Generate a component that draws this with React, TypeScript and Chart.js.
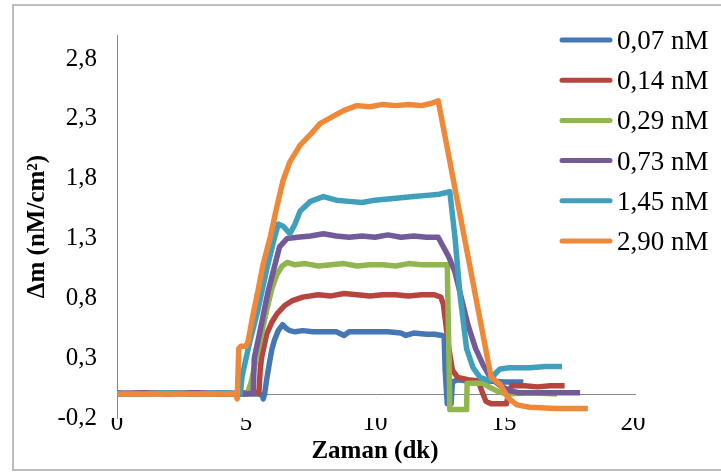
import React, { useEffect, useRef } from 'react';
import { Chart, registerables } from 'chart.js';

Chart.register(...registerables);

const seriesLabels = ['0,07 nM', '0,14 nM', '0,29 nM', '0,73 nM', '1,45 nM', '2,90 nM'];
const seriesColors = ['#4677B5', '#B5463F', '#92B64F', '#735A99', '#40A0BC', '#EE893A'];
const yTicks = [-0.2, 0.3, 0.8, 1.3, 1.8, 2.3, 2.8];
const xTicks = [0, 5, 10, 15, 20];

const t007 = [0, 1, 2, 3, 4, 5, 5.5, 5.62, 5.67, 5.72, 5.8, 5.9, 6.0, 6.1, 6.25, 6.42, 6.55, 6.7, 6.9, 7.2, 7.6, 8.0, 8.5, 8.8, 9.0, 9.5, 10.0, 10.5, 11.0, 11.2, 11.5, 12.0, 12.3, 12.6, 12.68, 12.72, 12.8, 12.95, 13.0, 13.2, 13.6, 14.0, 14.5, 15.0, 15.5, 15.75];
const v007 = [0.01, 0.0, 0.01, 0.0, 0.01, 0.0, 0.0, -0.01, -0.04, 0.0, 0.12, 0.25, 0.37, 0.45, 0.53, 0.58, 0.55, 0.53, 0.52, 0.53, 0.52, 0.52, 0.52, 0.49, 0.52, 0.52, 0.52, 0.52, 0.51, 0.49, 0.51, 0.5, 0.5, 0.49, 0.48, 0.2, -0.08, -0.08, 0.1, 0.12, 0.11, 0.1, 0.11, 0.1, 0.1, 0.1];

const t014 = [0, 1, 2, 3, 4, 5, 5.5, 5.55, 5.6, 5.8, 6.0, 6.2, 6.5, 6.8, 7.2, 7.8, 8.3, 8.8, 9.3, 9.8, 10.3, 10.8, 11.3, 11.8, 12.3, 12.55, 12.65, 12.75, 12.85, 13.0, 13.2, 13.6, 14.0, 14.15, 14.3, 14.5, 15.1, 15.2, 15.3, 15.8, 16.3, 16.8, 17.35];
const v014 = [0, 0.01, 0, 0.01, 0, 0.01, 0.01, 0.2, 0.3, 0.5, 0.6, 0.67, 0.74, 0.78, 0.81, 0.83, 0.82, 0.84, 0.83, 0.82, 0.83, 0.83, 0.82, 0.83, 0.83, 0.81, 0.75, 0.58, 0.4, 0.2, 0.14, 0.12, 0.11, 0.02, -0.06, -0.08, -0.08, 0.03, 0.07, 0.07, 0.06, 0.07, 0.07];

const t029 = [0, 1, 2, 3, 4, 5.05, 5.2, 5.4, 5.6, 5.8, 6.0, 6.2, 6.4, 6.6, 6.9, 7.3, 7.8, 8.3, 8.8, 9.3, 9.8, 10.3, 10.8, 11.3, 11.8, 12.3, 12.8, 12.85, 12.9, 13.55, 13.57, 14.2, 14.5, 14.8, 15.1, 16.0, 17.05];
const v029 = [0, 0, 0.01, 0, 0, 0, 0.1, 0.3, 0.5, 0.7, 0.88, 1.0, 1.07, 1.1, 1.08, 1.09, 1.07, 1.08, 1.09, 1.07, 1.08, 1.08, 1.07, 1.09, 1.08, 1.08, 1.08, 0.5, -0.13, -0.13, 0.09, 0.09, 0.05, 0.02, 0.0, 0.01, 0.0];

const t073 = [0, 1, 2, 3, 4, 5, 5.28, 5.32, 5.5, 5.67, 5.85, 6.05, 6.3, 6.6, 7.0, 7.5, 8.0, 8.5, 9.0, 9.5, 10.0, 10.5, 11.0, 11.5, 12.0, 12.45, 12.6, 12.85, 13.1, 13.35, 13.6, 13.9, 14.2, 14.5, 14.85, 15.2, 15.6, 16.5, 17.95];
const v073 = [0, 0.01, 0, 0.01, 0, 0, 0.01, 0.3, 0.48, 0.66, 0.85, 1.02, 1.23, 1.3, 1.31, 1.32, 1.34, 1.32, 1.31, 1.32, 1.31, 1.33, 1.31, 1.32, 1.31, 1.31, 1.25, 1.15, 1.02, 0.8, 0.58, 0.38, 0.24, 0.13, 0.07, 0.03, 0.01, 0.01, 0.01];

const t145 = [0, 1, 2, 3, 4, 4.78, 4.85, 5.15, 5.45, 5.8, 6.05, 6.25, 6.45, 6.7, 6.9, 7.1, 7.5, 8.0, 8.5, 9.0, 9.5, 10.0, 10.5, 11.0, 11.5, 12.0, 12.5, 12.9, 13.1, 13.3, 13.55, 13.8, 14.07, 14.45, 14.7, 14.85, 15.2, 16.0, 16.6, 17.25];
const v145 = [0, 0, 0.01, 0, 0.01, 0, 0.15, 0.44, 0.69, 1.04, 1.26, 1.42, 1.4, 1.34, 1.42, 1.53, 1.61, 1.65, 1.62, 1.61, 1.6, 1.62, 1.63, 1.64, 1.65, 1.66, 1.67, 1.69, 1.31, 0.82, 0.38, 0.22, 0.14, 0.11, 0.18, 0.21, 0.22, 0.22, 0.23, 0.23];

const t290 = [0, 1, 2, 3, 4, 4.6, 4.66, 4.72, 4.8, 5.0, 5.08, 5.27, 5.47, 5.67, 5.95, 6.15, 6.43, 6.7, 7.1, 7.5, 7.87, 8.37, 8.8, 9.3, 9.8, 10.3, 10.8, 11.3, 11.8, 12.2, 12.45, 14.5, 14.85, 15.15, 15.5, 16.0, 17.0, 18.25];
const v290 = [0, 0, 0, 0, 0, 0, -0.04, 0.38, 0.4, 0.4, 0.44, 0.66, 0.87, 1.09, 1.32, 1.52, 1.78, 1.94, 2.08, 2.17, 2.26, 2.32, 2.37, 2.41, 2.4, 2.42, 2.41, 2.42, 2.41, 2.43, 2.45, 0.14, 0.08, -0.03, -0.09, -0.11, -0.12, -0.12];

const seriesTimes = [t007, t014, t029, t073, t145, t290];
const seriesValues = [v007, v014, v029, v073, v145, v290];

const FONT = '"Liberation Serif", "Times New Roman", serif';
const fmt = (v: number) => v.toFixed(1).replace('.', ',');

const bgPlugin = {
  id: 'bgFrame',
  beforeDraw(chart: any) {
    const c = chart.ctx;
    c.save();
    c.fillStyle = '#ffffff';
    c.fillRect(0, 0, chart.width, chart.height);
    c.restore();
  },
  afterDraw(chart: any) {
    const c = chart.ctx;
    c.save();
    c.strokeStyle = '#BDBDBD';
    c.lineWidth = 2;
    c.strokeRect(13, 5, 720, 465);
    c.restore();
  },
};

const zeroLinePlugin = {
  id: 'zeroLine',
  beforeDatasetsDraw(chart: any) {
    const c = chart.ctx;
    const y = Math.round(chart.scales.y.getPixelForValue(0)) + 0.5;
    c.save();
    c.strokeStyle = '#868686';
    c.lineWidth = 1;
    c.beginPath();
    c.moveTo(chart.chartArea.left, y);
    c.lineTo(chart.chartArea.right + 3, y);
    c.stroke();
    c.restore();
  },
};

const legendPlugin = {
  id: 'sideLegend',
  afterDatasetsDraw(chart: any) {
    const c = chart.ctx;
    chart.data.datasets.forEach((ds: any, i: number) => {
      const y = 40 + 40.2 * i;
      c.save();
      c.strokeStyle = ds.borderColor;
      c.lineWidth = 5;
      c.lineCap = 'round';
      c.beginPath();
      c.moveTo(562, y);
      c.lineTo(610, y);
      c.stroke();
      c.fillStyle = '#000';
      c.font = `27px ${FONT}`;
      c.textBaseline = 'middle';
      c.textAlign = 'left';
      c.fillText(ds.label, 617, y + 2);
      c.restore();
    });
  },
};

export default function App() {
  const ref = useRef<HTMLCanvasElement>(null);
  useEffect(() => {
    document.body.style.margin = '0';
    const canvas = ref.current!;
    const datasets = seriesTimes.map((ts, i) => ({
      label: seriesLabels[i],
      data: ts.map((t, j) => ({ x: t, y: seriesValues[i][j] })),
      borderColor: seriesColors[i],
      backgroundColor: seriesColors[i],
      borderWidth: 5.5,
      pointRadius: 0,
      tension: 0,
      fill: false,
      borderJoinStyle: 'round' as const,
      order: seriesTimes.length - i,
    }));
    const chart = new Chart(canvas, {
      type: 'line',
      data: { datasets },
      options: {
        animation: false,
        responsive: false,
        maintainAspectRatio: false,
        layout: { padding: { top: 27, right: 88, left: 0, bottom: 0 } },
        plugins: { legend: { display: false }, tooltip: { enabled: false } },
        scales: {
          x: {
            type: 'linear',
            min: 0,
            max: 20,
            afterBuildTicks: (s: any) => { s.ticks = xTicks.map((v) => ({ value: v })); },
            afterFit: (s: any) => { s.height = 54; },
            grid: { display: false, drawTicks: false },
            border: { display: false },
            ticks: { color: '#000', font: { family: FONT, size: 25 }, padding: -10, maxRotation: 0, callback: (v: any) => String(v) },
            title: { display: true, text: 'Zaman (dk)', color: '#000', font: { family: FONT, size: 25, weight: 'bold' }, padding: { top: 0, bottom: 5 } },
          },
          y: {
            type: 'linear',
            min: -0.2,
            max: 3.0,
            afterBuildTicks: (s: any) => { s.ticks = yTicks.map((v) => ({ value: v })); },
            afterFit: (s: any) => { s.width = 117; },
            grid: { display: false, drawTicks: false },
            border: { display: true, color: '#868686', width: 1 },
            ticks: { color: '#000', font: { family: FONT, size: 25 }, padding: 20, callback: (v: any) => fmt(Number(v)) },
            title: { display: true, text: 'Δm (nM/cm²)', color: '#000', font: { family: FONT, size: 25, weight: 'bold' }, padding: { top: 23, bottom: 0 } },
          },
        },
      },
      plugins: [bgPlugin, zeroLinePlugin, legendPlugin],
    });
    return () => chart.destroy();
  }, []);
  return (
    <div style={{ width: 721, height: 472 }}>
      <canvas ref={ref} width={721} height={472} style={{ display: 'block' }} />
    </div>
  );
}
